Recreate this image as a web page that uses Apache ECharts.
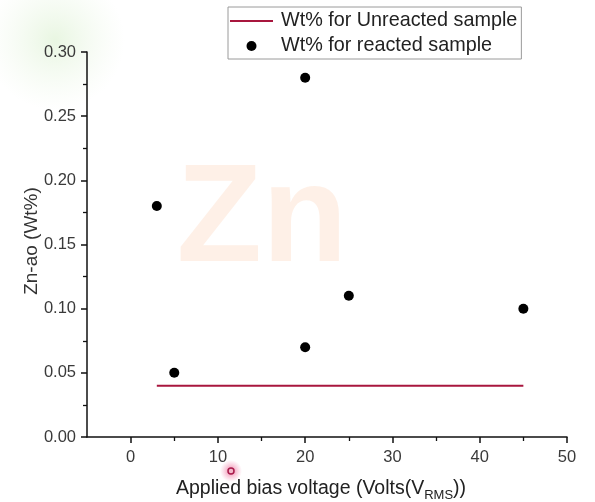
<!DOCTYPE html>
<html>
<head>
<meta charset="utf-8">
<script src="https://cdn.jsdelivr.net/npm/echarts@6/dist/echarts.min.js"></script>
<style>
html,body{margin:0;padding:0;background:#fff;}
#c{width:595px;height:502px;}
</style>
</head>
<body>
<div id="c"></div>
<script>
// ---- data ----
var seriesNames = ['Wt% for Unreacted sample', 'Wt% for reacted sample'];
var xUnreacted = [3, 45];
var yUnreacted = [0.04, 0.04];
var xReacted = [3, 5, 20, 20, 25, 45];
var yReacted = [0.18, 0.05, 0.28, 0.07, 0.11, 0.10];
var xTickValues = [0, 10, 20, 30, 40, 50];
var xMinorTickValues = [5, 15, 25, 35, 45];
var xAxisTitle = 'Applied bias voltage (Volts(V';
var xAxisSub = 'RMS';
var xAxisTail = '))';
var yAxisTitle = 'Zn-ao (Wt%)';
var watermark = 'Zn';

var FONT = 'Liberation Sans, Arial, sans-serif';
var LINE_COLOR = '#a8163e';

var chart = echarts.init(document.getElementById('c'), null, {renderer: 'canvas'});

function pairs(xs, ys) { return xs.map(function (x, i) { return [x, ys[i]]; }); }

var option = {
  backgroundColor: '#ffffff',
  animation: false,
  grid: {left: 87, right: 28, top: 52, bottom: 65, containLabel: false, outerBoundsMode: 'none'},
  graphic: [
    {type: 'circle', shape: {cx: 55, cy: 40, r: 70}, z: -10, silent: true,
     style: {fill: {type: 'radial', x: 0.5, y: 0.5, r: 0.5, colorStops: [
       {offset: 0, color: 'rgba(205,235,190,0.45)'}, {offset: 1, color: 'rgba(225,242,215,0)'}]}}},
    {type: 'text', x: 262, y: 222, z: -5, silent: true,
     style: {text: watermark, font: 'bold 140px ' + FONT, fill: 'rgba(248,175,130,0.19)', textAlign: 'center', textVerticalAlign: 'middle'}},
    {type: 'text', x: 32, y: 241, rotation: Math.PI / 2, silent: true,
     style: {text: yAxisTitle, font: '19px ' + FONT, fill: '#333', textAlign: 'center', textVerticalAlign: 'middle'}},
    {type: 'circle', shape: {cx: 231, cy: 471, r: 11}, silent: true, z: 20,
     style: {fill: {type: 'radial', x: 0.5, y: 0.5, r: 0.5, colorStops: [
       {offset: 0, color: 'rgba(235,90,140,0.75)'}, {offset: 1, color: 'rgba(240,130,170,0)'}]}}},
    {type: 'circle', shape: {cx: 231, cy: 471, r: 3}, silent: true, z: 21,
     style: {fill: '#f3b8cb', stroke: '#a81a4a', lineWidth: 1.5}}
  ],
  legend: {
    orient: 'vertical',
    left: 228, top: 7,
    padding: [4, 4, 3, 2],
    itemGap: 5,
    itemWidth: 43, itemHeight: 10,
    backgroundColor: '#fff',
    borderColor: '#9a9a9a', borderWidth: 1,
    textStyle: {fontFamily: FONT, fontSize: 19.8, color: '#222', padding: [0, 0, 0, 3]},
    data: [
      {name: seriesNames[0], icon: 'path://M0,0L0,0M0,4L43,4L43,6L0,6ZM43,10L43,10',
       itemStyle: {color: LINE_COLOR, borderWidth: 0}},
      {name: seriesNames[1]}
    ]
  },
  xAxis: [{
    type: 'value', min: -5, max: 50,
    name: '{m|' + xAxisTitle + '}{s|' + xAxisSub + '}{m|' + xAxisTail + '}',
    nameLocation: 'middle', nameGap: 39,
    nameTextStyle: {padding: [0, 12, 0, 0], rich: {
      m: {fontFamily: FONT, fontSize: 19.5, color: '#222', lineHeight: 26, verticalAlign: 'middle'},
      s: {fontFamily: FONT, fontSize: 13, color: '#222', lineHeight: 13, verticalAlign: 'bottom'}
    }},
    axisLine: {show: true, onZero: false, lineStyle: {color: '#111', width: 1.5}},
    axisTick: {show: true, inside: false, length: 6, customValues: xTickValues, lineStyle: {color: '#111', width: 1.5}},
    axisLabel: {show: true, margin: 12, customValues: xTickValues, fontFamily: FONT, fontSize: 16.5, color: '#3a3a3a'},
    splitLine: {show: false}
  }, {
    type: 'value', min: -5, max: 50, position: 'bottom',
    axisLine: {show: false, onZero: false},
    axisTick: {show: true, inside: false, length: 4, customValues: xMinorTickValues, lineStyle: {color: '#111', width: 1.3}},
    axisLabel: {show: false},
    splitLine: {show: false}
  }],
  yAxis: {
    type: 'value', min: 0, max: 0.3, interval: 0.05,
    axisLine: {show: true, onZero: false, lineStyle: {color: '#111', width: 1.5}},
    axisTick: {show: true, inside: false, length: 6, lineStyle: {color: '#111', width: 1.5}},
    minorTick: {show: true, splitNumber: 2, length: 4, lineStyle: {color: '#111', width: 1.3}},
    axisLabel: {margin: 11, fontFamily: FONT, fontSize: 16.5, color: '#3a3a3a',
      formatter: function (v) { return v.toFixed(2); }},
    splitLine: {show: false},
    minorSplitLine: {show: false}
  },
  series: [{
    name: seriesNames[0], type: 'line', xAxisIndex: 0,
    data: pairs(xUnreacted, yUnreacted),
    symbol: 'none', showSymbol: false,
    lineStyle: {color: LINE_COLOR, width: 2},
    itemStyle: {color: LINE_COLOR}
  }, {
    name: seriesNames[1], type: 'scatter', xAxisIndex: 0,
    data: pairs(xReacted, yReacted),
    symbol: 'circle', symbolSize: 10,
    itemStyle: {color: '#000', opacity: 1}
  }]
};
chart.setOption(option);
</script>
</body>
</html>
